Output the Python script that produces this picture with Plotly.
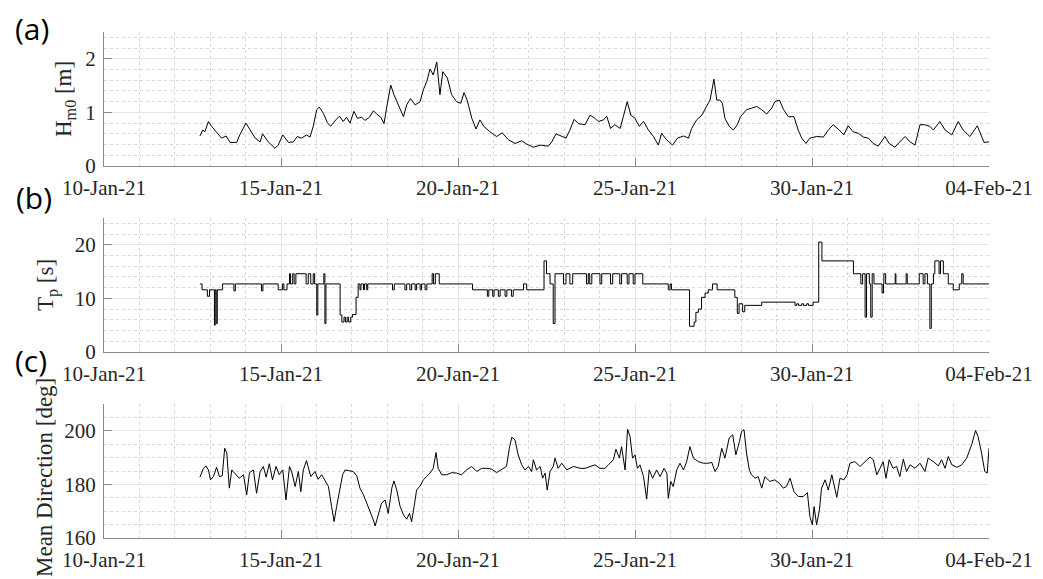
import pandas as pd
import plotly.graph_objects as go

BASE = pd.Timestamp("2021-01-10")

# ---------------- data (days since 10-Jan-21 00:00, values) ----------------
hs_day = [2.71, 2.79, 2.85, 2.95, 3.04, 3.18, 3.32, 3.45, 3.56, 3.75,
          3.82, 4.01, 4.12, 4.27, 4.41, 4.48, 4.64, 4.83, 4.92, 5.05,
          5.21, 5.35, 5.46, 5.58, 5.72, 5.82, 5.91, 6.01, 6.08, 6.20,
          6.31, 6.40, 6.55, 6.65, 6.76, 6.85, 6.95, 7.06, 7.16, 7.28,
          7.37, 7.50, 7.61, 7.70, 7.82, 7.91, 7.99, 8.10, 8.19, 8.31,
          8.46, 8.55, 8.66, 8.79, 8.93, 9.02, 9.12, 9.21, 9.30, 9.40,
          9.49, 9.57, 9.70, 9.82, 9.96, 10.08, 10.17, 10.26, 10.39, 10.51,
          10.62, 10.73, 10.90, 11.09, 11.25, 11.42, 11.61, 11.80, 11.94, 12.13,
          12.32, 12.55, 12.65, 12.77, 12.93, 13.05, 13.16, 13.28, 13.40, 13.59,
          13.73, 13.87, 13.96, 14.11, 14.20, 14.31, 14.43, 14.58, 14.67, 14.78,
          14.88, 15.00, 15.12, 15.24, 15.38, 15.52, 15.66, 15.75, 15.89, 16.06,
          16.20, 16.37, 16.51, 16.60, 16.74, 16.89, 17.02, 17.12, 17.23, 17.31,
          17.40, 17.47, 17.54, 17.66, 17.78, 17.89, 17.98, 18.15, 18.30, 18.44,
          18.58, 18.72, 18.86, 18.95, 19.08, 19.19, 19.33, 19.49, 19.61, 19.71,
          19.83, 19.94, 20.13, 20.32, 20.46, 20.60, 20.77, 20.90, 21.02, 21.16,
          21.31, 21.45, 21.59, 21.73, 21.87, 22.06, 22.18, 22.34, 22.48, 22.63,
          22.77, 22.91, 23.05, 23.19, 23.33, 23.43, 23.61, 23.76, 23.95, 24.13,
          24.27, 24.46, 24.67, 24.76, 24.86, 25.00]
hs_val = [0.56, 0.67, 0.64, 0.83, 0.74, 0.64, 0.52, 0.56, 0.44, 0.44,
          0.56, 0.80, 0.67, 0.52, 0.45, 0.60, 0.45, 0.33, 0.39, 0.58,
          0.44, 0.45, 0.55, 0.52, 0.58, 0.54, 0.74, 1.05, 1.10, 0.98,
          0.81, 0.74, 0.86, 0.93, 0.83, 0.91, 0.80, 1.02, 0.89, 0.91,
          0.85, 0.91, 1.03, 0.97, 0.91, 0.79, 1.11, 1.51, 1.33, 1.14,
          0.92, 1.14, 1.26, 1.14, 1.20, 1.42, 1.58, 1.81, 1.70, 1.94,
          1.33, 1.76, 1.64, 1.33, 1.20, 1.17, 1.37, 1.23, 0.89, 0.69,
          0.86, 0.74, 0.64, 0.55, 0.62, 0.49, 0.42, 0.47, 0.41, 0.35,
          0.39, 0.37, 0.45, 0.60, 0.55, 0.52, 0.67, 0.87, 0.79, 0.77,
          0.95, 0.89, 0.83, 0.86, 0.93, 0.70, 0.77, 0.70, 0.92, 1.20,
          0.95, 0.89, 0.74, 0.83, 0.67, 0.55, 0.39, 0.61, 0.49, 0.39,
          0.52, 0.56, 0.52, 0.70, 0.86, 0.95, 1.11, 1.23, 1.62, 1.23,
          1.23, 1.17, 0.89, 0.74, 0.67, 0.77, 0.92, 1.05, 1.08, 1.11,
          1.05, 0.97, 1.08, 1.20, 1.23, 1.06, 0.92, 0.92, 0.67, 0.52,
          0.42, 0.52, 0.55, 0.54, 0.67, 0.77, 0.67, 0.58, 0.75, 0.64,
          0.61, 0.54, 0.52, 0.42, 0.37, 0.55, 0.42, 0.35, 0.45, 0.55,
          0.45, 0.39, 0.77, 0.77, 0.74, 0.67, 0.83, 0.67, 0.58, 0.83,
          0.67, 0.55, 0.75, 0.61, 0.44, 0.45]

# peak period: value holds until next change (step series)
tp_day = [2.71, 2.77, 2.92, 2.98, 3.12, 3.14, 3.17, 3.20, 3.35, 3.67,
          3.71, 4.45, 4.49, 4.92, 5.04, 5.08, 5.17, 5.24, 5.27, 5.33,
          5.37, 5.42, 5.71, 5.77, 5.84, 5.91, 5.95, 6.01, 6.04, 6.21,
          6.24, 6.27, 6.67, 6.72, 6.78, 6.82, 6.87, 6.91, 6.97, 7.02,
          7.12, 7.18, 7.23, 7.26, 7.33, 7.36, 7.42, 7.45, 8.15, 8.20,
          8.50, 8.55, 8.64, 8.69, 8.79, 8.83, 8.93, 8.97, 9.07, 9.12,
          9.27, 9.31, 9.36, 9.47, 10.41, 10.83, 10.87, 10.98, 11.02, 11.14,
          11.19, 11.33, 11.38, 11.51, 11.56, 11.85, 11.94, 12.43, 12.50, 12.60,
          12.69, 12.74, 12.98, 13.05, 13.16, 13.24, 13.63, 13.68, 13.72, 13.78,
          14.01, 14.06, 14.31, 14.37, 14.57, 14.62, 14.78, 14.83, 14.95, 15.00,
          15.22, 15.94, 15.99, 16.03, 16.54, 16.67, 16.72, 16.79, 16.88, 16.98,
          17.07, 17.19, 17.32, 17.82, 17.89, 17.94, 18.04, 18.10, 18.58, 19.52,
          19.57, 19.62, 19.71, 19.76, 19.85, 19.90, 20.03, 20.19, 20.28, 21.17,
          21.38, 21.43, 21.50, 21.54, 21.62, 21.66, 21.70, 21.75, 21.98, 22.02,
          22.03, 22.08, 22.35, 22.37, 22.66, 22.69, 23.03, 23.14, 23.19, 23.26,
          23.33, 23.37, 23.43, 23.47, 23.59, 23.63, 23.71, 23.85, 23.99, 24.16,
          24.23, 24.27, 25.00]
tp_val = [12.7, 11.6, 10.4, 11.6, 5.0, 11.6, 5.3, 11.6, 12.7, 11.4,
          12.7, 11.4, 12.7, 11.6, 12.7, 11.6, 12.7, 14.6, 12.7, 14.6,
          12.7, 14.6, 12.7, 14.6, 12.7, 14.6, 12.7, 6.9, 12.7, 14.6,
          5.3, 12.7, 6.9, 5.6, 6.5, 5.6, 6.5, 5.6, 6.5, 7.0,
          10.2, 12.7, 11.6, 12.7, 11.6, 12.7, 11.6, 12.7, 11.6, 12.7,
          11.6, 12.7, 11.6, 12.7, 11.6, 12.7, 11.6, 12.7, 11.6, 12.7,
          14.6, 12.7, 14.6, 12.7, 11.6, 10.4, 11.6, 10.4, 11.6, 10.4,
          11.6, 10.4, 11.6, 10.4, 11.6, 12.7, 11.6, 17.0, 14.6, 12.7,
          5.3, 14.6, 12.7, 14.6, 12.7, 14.6, 12.7, 14.6, 12.7, 14.6,
          12.7, 14.6, 12.7, 14.6, 12.7, 14.6, 12.7, 14.6, 12.7, 14.6,
          12.7, 11.6, 12.7, 11.6, 4.8, 5.6, 7.4, 8.0, 10.2, 11.0,
          11.6, 12.7, 11.6, 10.2, 7.2, 9.0, 7.5, 8.7, 9.3, 8.7,
          9.0, 8.7, 9.0, 8.7, 9.0, 8.7, 9.3, 20.5, 17.0, 14.6,
          12.7, 14.6, 6.5, 14.6, 12.7, 6.5, 14.6, 12.7, 11.0, 12.7,
          14.6, 12.7, 14.6, 12.7, 14.6, 12.7, 14.6, 12.7, 14.6, 12.7,
          4.4, 12.7, 14.6, 17.0, 14.6, 17.0, 14.6, 12.7, 11.6, 12.7,
          14.6, 12.7, 12.7]

dir_day = [2.71, 2.81, 2.88, 2.95, 3.01, 3.09, 3.18, 3.26, 3.34, 3.41,
           3.47, 3.54, 3.61, 3.70, 3.82, 3.94, 4.03, 4.11, 4.22, 4.31,
           4.41, 4.50, 4.58, 4.67, 4.76, 4.86, 4.95, 5.05, 5.14, 5.24,
           5.30, 5.40, 5.49, 5.56, 5.63, 5.72, 5.84, 5.96, 6.05, 6.15,
           6.24, 6.34, 6.43, 6.50, 6.57, 6.65, 6.74, 6.81, 6.93, 7.04,
           7.14, 7.23, 7.33, 7.42, 7.51, 7.61, 7.66, 7.75, 7.84, 7.94,
           8.03, 8.13, 8.19, 8.27, 8.36, 8.46, 8.55, 8.63, 8.69, 8.76,
           8.83, 8.93, 9.02, 9.11, 9.21, 9.30, 9.38, 9.44, 9.54, 9.68,
           9.82, 9.96, 10.10, 10.24, 10.39, 10.53, 10.67, 10.81, 10.95, 11.09,
           11.23, 11.37, 11.45, 11.52, 11.61, 11.70, 11.80, 11.89, 11.99, 12.08,
           12.13, 12.22, 12.32, 12.39, 12.46, 12.52, 12.60, 12.69, 12.74, 12.83,
           12.93, 13.07, 13.26, 13.45, 13.59, 13.73, 13.87, 14.01, 14.15, 14.25,
           14.39, 14.46, 14.56, 14.62, 14.72, 14.79, 14.86, 14.93, 15.00, 15.07,
           15.14, 15.24, 15.33, 15.40, 15.50, 15.61, 15.71, 15.82, 15.90, 15.94,
           16.01, 16.08, 16.18, 16.27, 16.37, 16.46, 16.55, 16.65, 16.79, 16.93,
           17.07, 17.17, 17.26, 17.35, 17.45, 17.54, 17.66, 17.76, 17.85, 17.95,
           18.01, 18.08, 18.15, 18.23, 18.29, 18.39, 18.48, 18.58, 18.67, 18.81,
           18.95, 19.08, 19.19, 19.28, 19.38, 19.49, 19.61, 19.75, 19.87, 19.94,
           20.01, 20.06, 20.13, 20.21, 20.27, 20.37, 20.46, 20.56, 20.70, 20.79,
           20.90, 20.99, 21.07, 21.21, 21.36, 21.50, 21.64, 21.73, 21.83, 21.92,
           22.01, 22.09, 22.18, 22.29, 22.39, 22.48, 22.58, 22.67, 22.77, 22.91,
           23.05, 23.19, 23.28, 23.43, 23.57, 23.66, 23.76, 23.85, 23.95, 24.09,
           24.23, 24.37, 24.51, 24.62, 24.69, 24.79, 24.88, 24.95, 25.00]
dir_val = [182.7, 186.0, 186.9, 185.4, 181.7, 182.9, 186.4, 182.9, 183.2, 193.5,
           191.7, 178.6, 185.4, 184.2, 182.3, 183.6, 176.1, 184.4, 185.4, 176.7,
           184.8, 186.7, 182.7, 187.7, 181.7, 186.7, 183.6, 185.4, 174.2, 186.7,
           184.8, 179.2, 184.8, 177.3, 185.4, 188.9, 182.9, 184.8, 181.9, 183.6,
           181.7, 179.2, 171.7, 166.1, 171.7, 177.9, 183.6, 185.4, 185.2, 184.8,
           183.2, 178.6, 176.1, 173.0, 170.5, 166.7, 164.5, 169.2, 173.0, 174.2,
           169.2, 178.6, 181.3, 177.9, 172.0, 168.6, 167.0, 169.2, 166.1, 171.7,
           177.9, 179.4, 181.7, 182.9, 184.2, 186.0, 191.9, 186.0, 183.6, 183.6,
           184.4, 184.2, 183.6, 185.4, 186.7, 184.8, 186.0, 186.0, 185.7, 184.4,
           185.4, 186.7, 193.5, 197.6, 196.6, 191.0, 187.3, 185.4, 186.7, 184.8,
           189.2, 185.4, 186.7, 182.3, 184.2, 177.9, 184.8, 186.7, 189.8, 186.0,
           187.9, 185.4, 186.7, 186.0, 186.0, 186.7, 187.3, 186.0, 186.0, 187.3,
           189.2, 193.1, 189.8, 194.1, 185.4, 200.6, 197.9, 189.8, 191.0, 186.0,
           187.3, 182.9, 174.5, 185.4, 182.3, 185.4, 182.9, 186.0, 184.2, 174.8,
           181.1, 179.2, 185.4, 187.9, 185.4, 188.5, 194.1, 189.8, 188.5, 187.9,
           187.9, 188.2, 184.8, 186.7, 193.5, 189.8, 197.3, 198.5, 191.0, 196.0,
           199.8, 200.4, 191.7, 185.4, 183.6, 182.3, 182.9, 178.6, 182.9, 181.1,
           181.7, 180.4, 178.6, 179.2, 182.3, 177.3, 175.5, 175.5, 176.9, 168.0,
           164.9, 171.7, 164.9, 170.5, 178.6, 181.7, 177.9, 183.6, 175.2, 182.3,
           181.7, 183.6, 187.9, 188.5, 186.7, 188.5, 190.2, 189.2, 183.6, 186.0,
           188.5, 182.3, 189.2, 186.0, 186.7, 182.9, 189.4, 184.8, 187.3, 186.0,
           187.9, 184.8, 189.8, 188.5, 186.9, 189.2, 186.0, 190.4, 187.3, 186.4,
           187.3, 189.8, 194.8, 200.1, 197.9, 191.7, 184.8, 184.2, 193.5]

x_tick_dates = ["2021-01-10", "2021-01-15", "2021-01-20", "2021-01-25", "2021-01-30", "2021-02-04"]
x_tick_labels = ["10-Jan-21", "15-Jan-21", "20-Jan-21", "25-Jan-21", "30-Jan-21", "04-Feb-21"]
hs_ticks = [0, 1, 2]
tp_ticks = [0, 10, 20]
dir_ticks = [160, 180, 200]


def to_time(days):
    return [BASE + pd.Timedelta(days=d) for d in days]


W, H = 1043, 579
SERIF = "Liberation Serif"
TXT = "#262626"
AX = "#8a8a8a"

fig = go.Figure()
fig.add_trace(go.Scatter(x=to_time(hs_day), y=hs_val, mode="lines",
                         line=dict(color="black", width=1), xaxis="x", yaxis="y"))
fig.add_trace(go.Scatter(x=to_time(tp_day), y=tp_val, mode="lines",
                         line=dict(color="black", width=1, shape="hv"), xaxis="x2", yaxis="y2"))
fig.add_trace(go.Scatter(x=to_time(dir_day), y=dir_val, mode="lines",
                         line=dict(color="black", width=1), xaxis="x3", yaxis="y3"))

xdom = [104 / W, 989 / W]
panels = [(32, 166), (218, 352), (404, 538)]
yspecs = [([0, 2.5], hs_ticks, 0.2), ([0, 25], tp_ticks, 2), ([160, 210], dir_ticks, 5)]

layout = dict(width=W, height=H, margin=dict(l=0, r=0, t=0, b=0, autoexpand=False),
              paper_bgcolor="white", plot_bgcolor="white", showlegend=False)

for i, ((top, bot), (yr, yt, ymin)) in enumerate(zip(panels, yspecs)):
    sfx = "" if i == 0 else str(i + 1)
    layout["xaxis" + sfx] = dict(
        domain=xdom, anchor="y" + sfx, type="date", automargin=False,
        range=["2021-01-10", "2021-02-04"],
        tickmode="array", tickvals=x_tick_dates, ticktext=x_tick_labels,
        ticks="inside", ticklen=8, tickcolor=AX, tickwidth=1,
        showline=True, linecolor=AX, linewidth=1, mirror=False,
        showgrid=True, gridcolor="#e6e6e6", gridwidth=1, zeroline=False,
        tickfont=dict(family=SERIF, size=21, color=TXT),
        ticklabelstandoff=3,
        minor=dict(tickmode="linear", tick0="2021-01-10", dtick=86400000,
                   showgrid=True, gridcolor="#d8d8d8", griddash="dot", gridwidth=1, ticks=""),
    )
    layout["yaxis" + sfx] = dict(
        domain=[1 - bot / H, 1 - top / H], anchor="x" + sfx, automargin=False,
        range=yr, tickmode="array", tickvals=yt,
        ticks="inside", ticklen=8, tickcolor=AX, tickwidth=1,
        showline=True, linecolor=AX, linewidth=1, mirror=False,
        showgrid=True, gridcolor="#e6e6e6", gridwidth=1, zeroline=False,
        tickfont=dict(family=SERIF, size=21, color=TXT),
        ticklabelstandoff=3,
        minor=dict(tickmode="linear", tick0=yr[0], dtick=ymin,
                   showgrid=True, gridcolor="#d8d8d8", griddash="dot", gridwidth=1, ticks=""),
    )

annotations = []
ytitles = [("H<sub>m0</sub> [m]", 65, 99), ("T<sub>p</sub> [s]", 47, 285), ("Mean Direction [deg]", 44, 478)]
for text, cx, cy in ytitles:
    annotations.append(dict(text=text, x=cx / W, y=1 - cy / H, xref="paper", yref="paper",
                            xanchor="center", yanchor="middle", textangle=-90, showarrow=False,
                            font=dict(family=SERIF, size=23, color=TXT)))
plabels = [("(a)", 32, 29), ("(b)", 34, 197), ("(c)", 31, 360)]
for text, cx, cy in plabels:
    annotations.append(dict(text=text, x=cx / W, y=1 - cy / H, xref="paper", yref="paper",
                            xanchor="center", yanchor="middle", showarrow=False,
                            font=dict(family="Open Sans", size=30, color="black")))
layout["annotations"] = annotations

fig.update_layout(**layout)
fig.write_html("out.html")
